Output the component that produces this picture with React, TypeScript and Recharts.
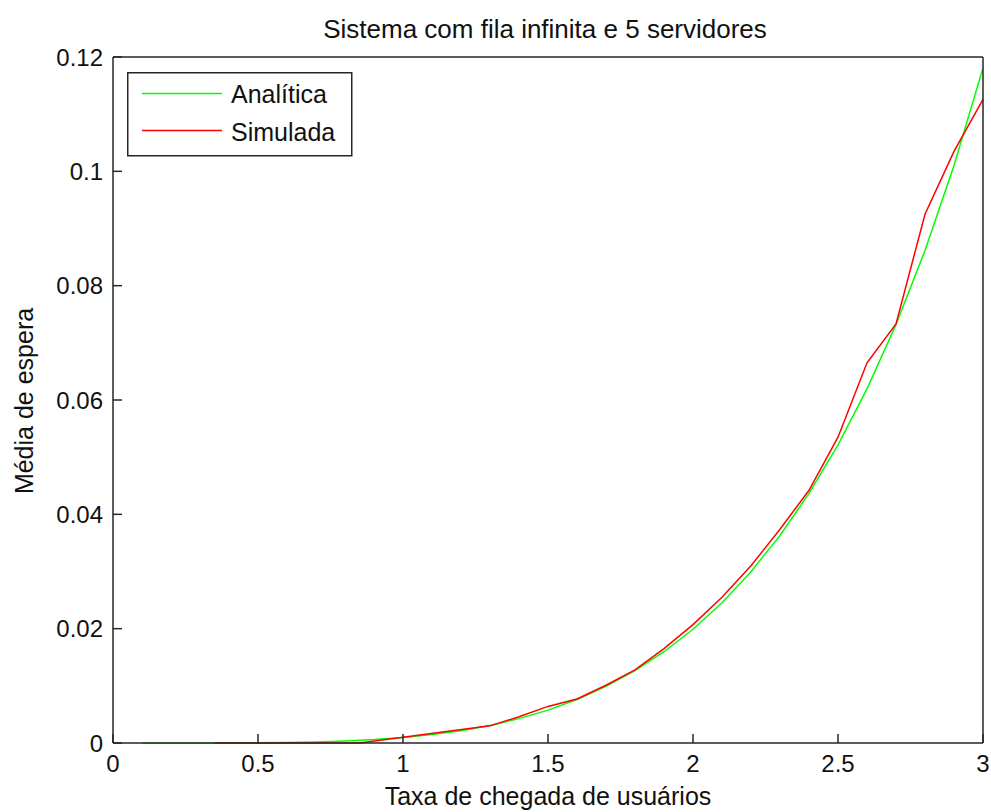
import React from 'react';
import { LineChart, Line, XAxis, YAxis, Legend } from 'recharts';

const analiticaX = [0.1, 0.2, 0.3, 0.4, 0.5, 0.6, 0.7, 0.8, 0.9, 1.0, 1.1, 1.2, 1.3, 1.4, 1.5, 1.6, 1.7, 1.8, 1.9, 2.0, 2.1, 2.2, 2.3, 2.4, 2.5, 2.6, 2.7, 2.8, 2.9, 3.0];
const analiticaY = [0.0, 0.0000005, 0.0000034, 0.0000135, 0.000039, 0.000092, 0.000188, 0.000348, 0.000595, 0.000958, 0.001468, 0.002162, 0.003078, 0.00426, 0.005754, 0.007614, 0.009894, 0.012655, 0.015967, 0.0199, 0.02454, 0.029976, 0.036308, 0.043656, 0.05215, 0.061938, 0.073199, 0.086142, 0.10101, 0.118096];

const simuladaX = [0.35, 0.85, 1.3, 1.4, 1.5, 1.6, 1.7, 1.8, 1.9, 2.0, 2.1, 2.2, 2.3, 2.4, 2.5, 2.6, 2.7, 2.8, 2.9, 3.0];
const simuladaY = [0.0, 0.0, 0.003, 0.0046, 0.0064, 0.0077, 0.0101, 0.0128, 0.0165, 0.0207, 0.0255, 0.031, 0.0374, 0.0442, 0.0535, 0.0665, 0.0733, 0.0925, 0.1035, 0.1126];

const xTicks = [0, 0.5, 1, 1.5, 2, 2.5, 3];
const yTicks = [0, 0.02, 0.04, 0.06, 0.08, 0.1, 0.12];

const titleText = 'Sistema com fila infinita e 5 servidores';
const xLabelText = 'Taxa de chegada de usuários';
const yLabelText = 'Média de espera';
const seriesNames = ['Analítica', 'Simulada'];
const seriesColors = ['#00ff00', '#ff0000'];

const analiticaData = analiticaX.map((x, i) => ({ x, y: analiticaY[i] }));
const simuladaData = simuladaX.map((x, i) => ({ x, y: simuladaY[i] }));

const FONT = '"Liberation Sans", Arial, Helvetica, sans-serif';
const AXIS_COLOR = '#262626';
const TEXT_COLOR = '#111';

const LegendBox = () => (
  <svg width={226} height={85} style={{ display: 'block' }}>
    <rect x={0.75} y={0.75} width={224} height={83} fill="#fff" stroke={AXIS_COLOR} strokeWidth={1.5} />
    <line x1={15} x2={95} y1={21.5} y2={21.5} stroke={seriesColors[0]} strokeWidth={1.5} />
    <text x={104} y={31} fontSize={25} fontFamily={FONT} fill={TEXT_COLOR}>{seriesNames[0]}</text>
    <line x1={15} x2={95} y1={58.5} y2={58.5} stroke={seriesColors[1]} strokeWidth={1.5} />
    <text x={104} y={69} fontSize={25} fontFamily={FONT} fill={TEXT_COLOR}>{seriesNames[1]}</text>
  </svg>
);

export default function App() {
  const tickStyle = { fontSize: 24, fontFamily: FONT, fill: TEXT_COLOR };
  return (
    <div style={{ position: 'absolute', left: 0, top: 0, width: 991, height: 812, background: '#fff' }}>
      <LineChart width={991} height={812} margin={{ top: 47, right: 7, bottom: 29, left: 53 }}>
        <XAxis
          xAxisId="bottom"
          type="number"
          dataKey="x"
          domain={[0, 3]}
          ticks={xTicks}
          orientation="bottom"
          height={40}
          tickSize={-9}
          tickMargin={21}
          tick={tickStyle}
          axisLine={{ stroke: AXIS_COLOR, strokeWidth: 1.5 }}
          tickLine={{ stroke: AXIS_COLOR, strokeWidth: 1.5 }}
          tickFormatter={(v: number) => String(v)}
          allowDecimals
        />
        <XAxis
          xAxisId="top"
          type="number"
          dataKey="x"
          domain={[0, 3]}
          ticks={xTicks}
          orientation="top"
          height={10}
          tickSize={-9}
          tick={false}
          axisLine={{ stroke: AXIS_COLOR, strokeWidth: 1.5 }}
          tickLine={{ stroke: AXIS_COLOR, strokeWidth: 1.5 }}
        />
        <YAxis
          yAxisId="left"
          type="number"
          domain={[0, 0.12]}
          ticks={yTicks}
          orientation="left"
          width={60}
          tickSize={-9}
          tickMargin={19}
          tick={tickStyle}
          axisLine={{ stroke: AXIS_COLOR, strokeWidth: 1.5 }}
          tickLine={{ stroke: AXIS_COLOR, strokeWidth: 1.5 }}
          tickFormatter={(v: number) => String(v)}
        />
        <YAxis
          yAxisId="right"
          type="number"
          domain={[0, 0.12]}
          ticks={yTicks}
          orientation="right"
          width={1}
          tickSize={-9}
          tick={false}
          axisLine={{ stroke: AXIS_COLOR, strokeWidth: 1.5 }}
          tickLine={{ stroke: AXIS_COLOR, strokeWidth: 1.5 }}
        />
        <Legend
          layout="horizontal"
          verticalAlign="middle"
          align="center"
          content={() => <LegendBox />}
          wrapperStyle={{ position: 'absolute', left: 127, top: 72, width: 226, height: 85 }}
        />
        <Line
          xAxisId="bottom"
          yAxisId="left"
          data={analiticaData}
          dataKey="y"
          name={seriesNames[0]}
          stroke={seriesColors[0]}
          strokeWidth={1.5}
          dot={false}
          activeDot={false}
          isAnimationActive={false}
          type="linear"
        />
        <Line
          xAxisId="bottom"
          yAxisId="left"
          data={simuladaData}
          dataKey="y"
          name={seriesNames[1]}
          stroke={seriesColors[1]}
          strokeWidth={1.5}
          dot={false}
          activeDot={false}
          isAnimationActive={false}
          type="linear"
        />
      </LineChart>
      <svg width={991} height={812} style={{ position: 'absolute', left: 0, top: 0, pointerEvents: 'none' }}>
        <text x={545} y={37.5} textAnchor="middle" fontSize={26} fontFamily={FONT} fill={TEXT_COLOR}>{titleText}</text>
        <text x={548} y={805} textAnchor="middle" fontSize={25} fontFamily={FONT} fill={TEXT_COLOR}>{xLabelText}</text>
        <text x={33} y={401} textAnchor="middle" fontSize={25} fontFamily={FONT} fill={TEXT_COLOR} transform="rotate(-90 33 401)">{yLabelText}</text>
      </svg>
    </div>
  );
}
